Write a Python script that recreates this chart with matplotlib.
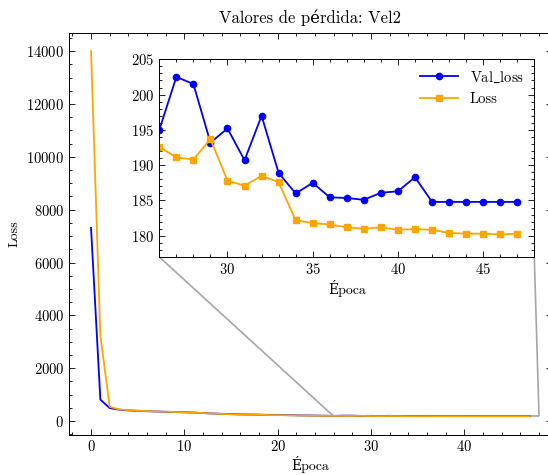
import matplotlib
matplotlib.use("Agg")
from matplotlib import pyplot as plt
from matplotlib.ticker import MultipleLocator
from mpl_toolkits.axes_grid1.inset_locator import mark_inset

plt.rcParams['font.family'] = ['cmr10', 'DejaVu Serif']
plt.rcParams['mathtext.fontset'] = 'cm'
plt.rcParams['axes.formatter.use_mathtext'] = True
plt.rcParams['font.size'] = 10
plt.rcParams['xtick.labelsize'] = 10.5
plt.rcParams['ytick.labelsize'] = 10.5

# datos
epocas = list(range(48))
val_loss = [7310, 810, 490, 430, 400, 385, 370, 360, 350, 340, 330, 320, 300, 285,
            270, 260, 250, 245, 240, 232, 228, 222, 215, 210, 205, 200,
            195.0, 202.5, 201.5, 193.2, 195.2, 190.7, 197.0, 188.9, 186.0, 187.5,
            185.45, 185.35, 185.1, 186.1, 186.3, 188.3, 184.8, 184.8, 184.8, 184.8,
            184.8, 184.8]
loss = [14000, 3230, 540, 440, 410, 390, 375, 362, 350, 340, 330, 318, 300, 280,
        268, 255, 248, 240, 235, 228, 222, 216, 210, 205, 200, 196,
        192.6, 191.1, 190.8, 193.7, 187.8, 187.1, 188.5, 187.6, 182.2, 181.8,
        181.6, 181.2, 181.0, 181.2, 180.85, 180.95, 180.85, 180.4, 180.3, 180.3,
        180.2, 180.3]

def estilo(ax):
    ax.tick_params(which='both', direction='in', top=True, right=True, width=0.6)
    ax.tick_params(which='major', length=4)
    ax.tick_params(which='minor', length=2)
    for s in ax.spines.values():
        s.set_linewidth(0.7)

fig = plt.figure(figsize=(5.48, 4.75), dpi=100)
ax = fig.add_axes([0.1261, 0.0851, 0.8805, 0.8455])
ax.plot(epocas, val_loss, color='blue', lw=1.3)
ax.plot(epocas, loss, color='orange', lw=1.3)
ax.set_xlim(-2.35, 49.35)
ax.set_ylim(-514, 14691)
ax.xaxis.set_major_locator(MultipleLocator(10))
ax.xaxis.set_minor_locator(MultipleLocator(2))
ax.yaxis.set_major_locator(MultipleLocator(2000))
ax.yaxis.set_minor_locator(MultipleLocator(500))
ax.set_xlabel('Época', labelpad=1)
ax.set_ylabel('Loss')
ax.set_title('Valores de pérdida: Vel2', pad=7)
estilo(ax)

axins = fig.add_axes([0.2907, 0.459, 0.6843, 0.4162])
axins.plot(epocas, val_loss, color='blue', marker='o', ms=4.5, lw=1.3, label='Val$\\_$loss')
axins.plot(epocas, loss, color='orange', marker='s', ms=4.5, lw=1.3, label='Loss')
axins.set_xlim(26, 48)
axins.set_ylim(177, 205)
axins.xaxis.set_major_locator(MultipleLocator(5))
axins.xaxis.set_minor_locator(MultipleLocator(1))
axins.yaxis.set_major_locator(MultipleLocator(5))
axins.yaxis.set_minor_locator(MultipleLocator(1))
axins.set_xlabel('Época', labelpad=2)
axins.legend(loc='upper right', frameon=False, handlelength=2.6, fontsize=10.5,
             borderaxespad=0.3)
estilo(axins)

mark_inset(ax, axins, loc1=3, loc2=4, fc='none', ec='0.65', lw=1.2)

fig.savefig('out.png', dpi=100)
